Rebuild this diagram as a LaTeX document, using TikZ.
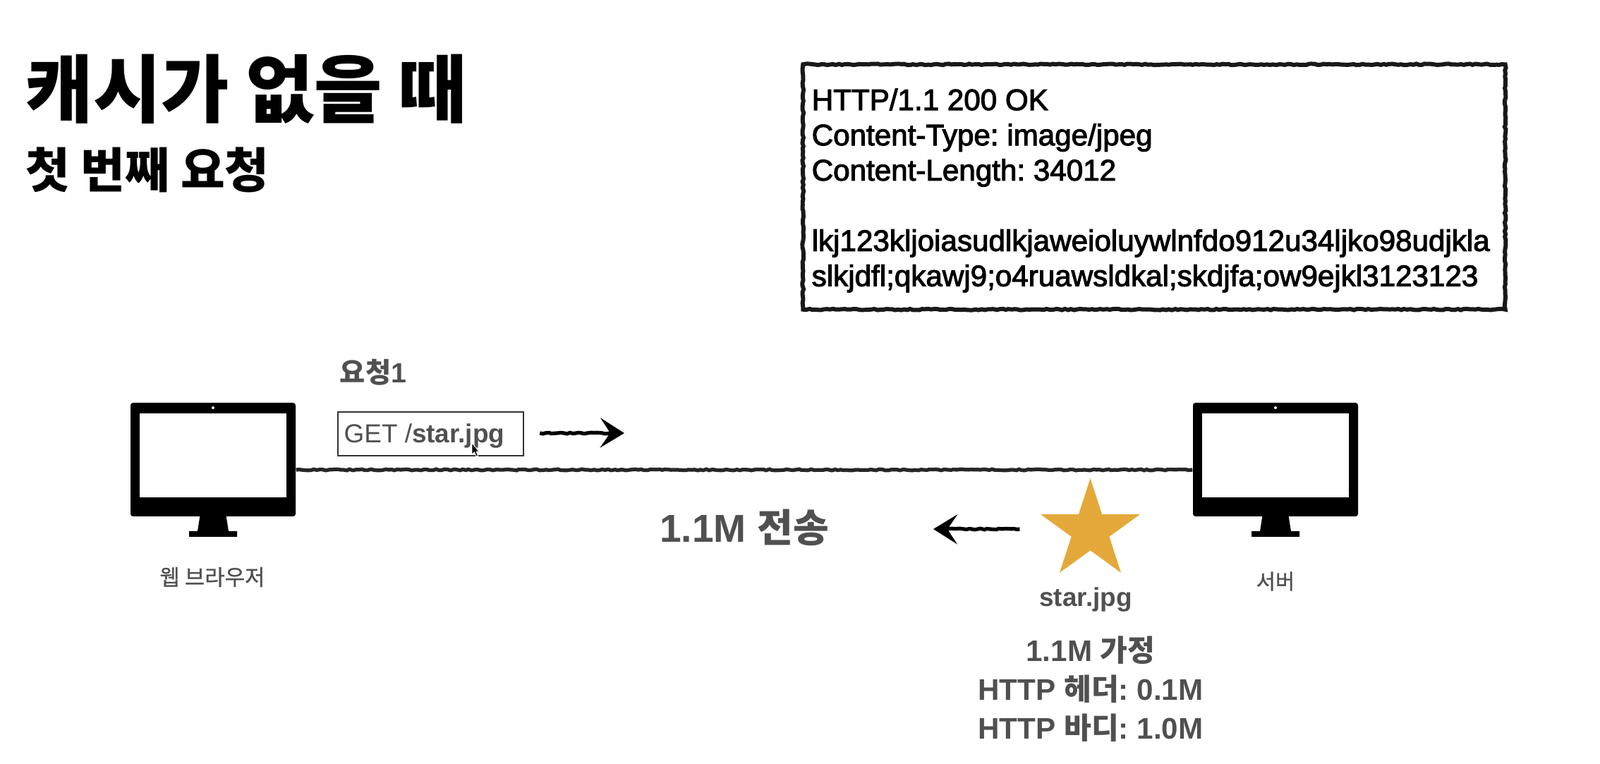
\documentclass[tikz,border=0pt]{standalone}
\usepackage{fontspec}
\usepackage{xcolor}
\setmainfont{Liberation Sans}
\newfontfamily\krfont{Noto Sans CJK KR}
\newfontfamily\krmedium[FakeBold=1]{Noto Sans CJK KR}
\newfontfamily\respfont[FakeBold=2.5]{Liberation Sans}
\definecolor{labelGray}{HTML}{505050}
\definecolor{starGold}{HTML}{E4A93A}
\usetikzlibrary{arrows.meta,shapes.geometric,decorations.pathmorphing}
\frenchspacing

\begin{document}
\begin{tikzpicture}[
    >={Stealth[length=3.4mm,width=4.2mm,inset=1.4mm]},
    rough/.style={decorate, decoration={random steps, segment length=1.2pt, amplitude=0.25pt}},
    wire/.style={rough, black!85, line width=1.5pt},
    flow/.style={rough, black, line width=1.5pt, ->},
    monitorbody/.style={fill=black, rounded corners=1pt, minimum width=2.34cm, minimum height=1.61cm, inner sep=0pt},
    monitorscreen/.style={fill=white, minimum width=2.08cm, minimum height=1.19cm, inner sep=0pt},
    title/.style={anchor=west, inner sep=0pt, font=\krfont\bfseries},
    graylabel/.style={text=labelGray, inner sep=0pt, align=center, font=\bfseries}
  ]
  \useasboundingbox (0,0) rectangle (22.68,10.82);
  % ---------- heading ----------
  \node[title, font=\krfont\bfseries\fontsize{29.8}{34}\selectfont] (mainTitle) at (0.35,9.56) {캐시가 없을 때};
  \node[title, font=\krfont\bfseries\fontsize{19.4}{24}\selectfont] (subTitle) at (0.36,8.41) {첫 번째 요청};
  % ---------- response message ----------
  \node[draw=none, minimum width=9.94cm, minimum height=3.46cm, inner sep=0pt] (respBox) at (16.36,8.17) {};
  \draw[rough, black!90, line width=1.7pt] (respBox.north west) -- (respBox.north east) -- (respBox.south east) -- (respBox.south west) -- cycle;
  \node[anchor=west, align=left, inner sep=0pt, font=\respfont\fontsize{12}{14.2}\selectfont] (respText) at (11.50,8.12)
    {HTTP/1.1 200 OK\\ Content-Type: image/jpeg\\ Content-Length: 34012\\[14.2pt]
     lkj123kljoiasudlkjaweioluywlnfdo912u34ljko98udjkla\\ slkjdfl;qkawj9;o4ruawsldkal;skdjfa;ow9ejkl3123123};
  % ---------- browser ----------
  \begin{scope}
    \node[monitorbody] (browser) at (3.02,4.305) {};
    \node[monitorscreen] (browserScreen) at (3.02,4.365) {};
    \fill[white] (3.02,5.04) circle (0.02);
    \fill[black] (2.835,3.51) -- (3.205,3.51) -- (3.24,3.29) -- (3.36,3.29) -- (3.36,3.21) -- (2.68,3.21) -- (2.68,3.29) -- (2.80,3.29) -- cycle;
    \node[graylabel, font=\krmedium\fontsize{8.8}{11}\selectfont] (browserLabel) at (3.01,2.64) {웹 브라우저};
  \end{scope}
  % ---------- server ----------
  \begin{scope}[xshift=15.06cm]
    \node[monitorbody] (server) at (3.02,4.305) {};
    \node[monitorscreen] (serverScreen) at (3.02,4.365) {};
    \fill[white] (3.02,5.04) circle (0.02);
    \fill[black] (2.835,3.51) -- (3.205,3.51) -- (3.24,3.29) -- (3.36,3.29) -- (3.36,3.21) -- (2.68,3.21) -- (2.68,3.29) -- (2.80,3.29) -- cycle;
    \node[graylabel, font=\krmedium\fontsize{8.4}{11}\selectfont] (serverLabel) at (3.02,2.58) {서버};
  \end{scope}
  % link between the two
  \draw[wire] ([yshift=-1.45mm]browser.east) -- ([yshift=-1.45mm]server.west);
  % ---------- request ----------
  \node[graylabel, font=\krfont\bfseries\fontsize{11.2}{13}\selectfont] (reqLabel) at (5.29,5.54) {요청\fontspec{Liberation Sans}1};
  \node[draw=black!80, line width=0.7pt, minimum width=2.63cm, minimum height=0.62cm, inner sep=0pt] (reqBox) at (6.105,4.67) {};
  \node[anchor=west, text=labelGray, inner sep=0pt, font=\fontsize{10.5}{12}\selectfont] (reqText) at (4.87,4.64) {GET /\textbf{star.jpg}};
  \coordinate (reqTip) at (8.85,4.68);
  \draw[flow] ([xshift=2.2mm,yshift=0.1mm]reqBox.east) -- (reqTip);
  % mouse pointer
  \draw[fill=black, draw=white, line width=0.25pt] (6.69,4.54) -- (6.69,4.38) -- (6.725,4.41) -- (6.75,4.35) -- (6.775,4.36) -- (6.75,4.42) -- (6.79,4.42) -- cycle;
  % ---------- file ----------
  \node[star, star points=5, star point ratio=2.618, fill=starGold, minimum size=1.48cm, inner sep=0pt] (starFile) at (15.455,3.30) {};
  \node[graylabel, font=\bfseries\fontsize{10.5}{12}\selectfont] (starName) at (15.39,2.32) {star.jpg};
  \coordinate (backTip) at (13.23,3.32);
  \draw[flow] ([xshift=-6mm,yshift=0.2mm]starFile.west) -- (backTip);
  \node[graylabel, font=\bfseries\fontsize{15.7}{19}\selectfont] (sendLabel) at (10.55,3.34) {1.1M {\krfont 전송}};
  \node[graylabel, font=\bfseries\fontsize{12}{15.6}\selectfont] (sizeNote) at (15.46,1.05)
    {1.1M {\krfont 가정}\\ HTTP {\krfont 헤더}: 0.1M\\ HTTP {\krfont 바디}: 1.0M};
\end{tikzpicture}
\end{document}
